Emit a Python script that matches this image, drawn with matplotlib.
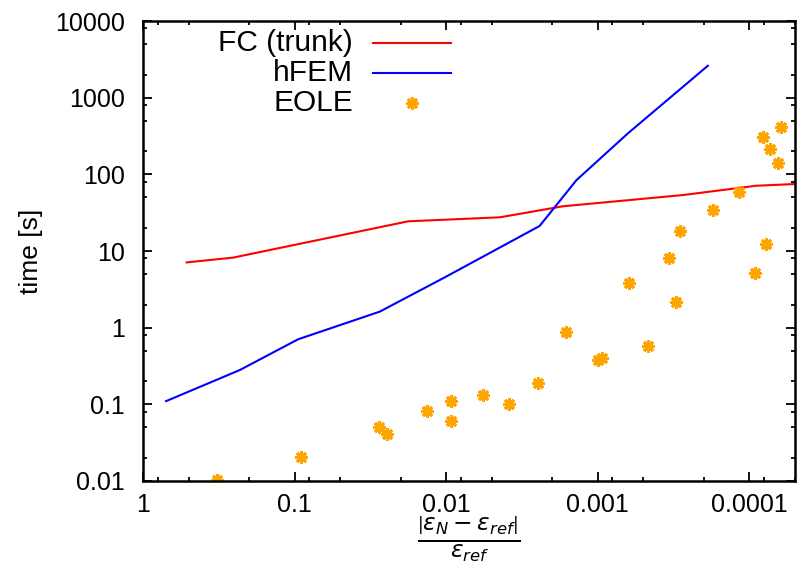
import numpy as np
import matplotlib
matplotlib.use('Agg')
import matplotlib.pyplot as plt
from matplotlib.lines import Line2D
from matplotlib.ticker import FixedLocator, FixedFormatter, LogLocator, NullFormatter

plt.rcParams['font.family'] = ['Liberation Sans', 'DejaVu Sans']
plt.rcParams['mathtext.fontset'] = 'dejavusans'

# FC (trunk) curve
fc_err = [0.515, 0.254, 0.0178, 0.00443, 0.0017, 0.000274, 9.0e-5, 5.0e-5]
fc_time = [7.1, 8.2, 24.4, 27.5, 38.3, 53.7, 71.0, 74.7]

# hFEM curve
hfem_err = [0.705, 0.23, 0.0947, 0.0274, 0.0102, 0.00242, 0.00138, 0.000632, 0.000188]
hfem_time = [0.11, 0.28, 0.706, 1.62, 4.54, 21.2, 84.3, 343.0, 2606.0]

# EOLE samples
eole_err = [0.327, 0.0909, 0.0277, 0.0247, 0.0134, 0.00933, 0.00933, 0.00571, 0.00387,
            0.00248, 0.00161, 0.000997, 0.000933, 0.000625, 0.000467, 0.00034, 0.000303,
            0.000285, 0.000175, 0.000117, 9.2e-5, 7.8e-5, 8.15e-5, 7.36e-5, 6.45e-5, 6.16e-5]
eole_time = [0.0103, 0.0204, 0.0507, 0.0407, 0.082, 0.112, 0.0613, 0.133, 0.102,
             0.192, 0.887, 0.379, 0.406, 3.83, 0.572, 8.18, 2.14,
             18.1, 34.5, 59.3, 5.21, 12.2, 309.0, 214.0, 139.0, 418.0]

xticks = [1, 0.1, 0.01, 0.001, 0.0001]
xtick_labels = ['1', '0.1', '0.01', '0.001', '0.0001']
yticks = [0.01, 0.1, 1, 10, 100, 1000, 10000]
ytick_labels = ['0.01', '0.1', '1', '10', '100', '1000', '10000']

W, H = 798, 568
fig = plt.figure(figsize=(W/100, H/100), dpi=100)
x0, x1, y0, y1 = 143, 795, 21, 481
ax = fig.add_axes([x0/W, 1 - y1/H, (x1 - x0)/W, (y1 - y0)/H])

l_fc, = ax.plot(fc_err, fc_time, color='#ff0000', lw=1.5)
l_hf, = ax.plot(hfem_err, hfem_time, color='#0000ff', lw=1.5)
eole_style = dict(ls='none', marker=(8, 2, 0), ms=9, mew=2.2, color='#ffa500')
ax.plot(eole_err, eole_time, **eole_style)

ax.set_xscale('log')
ax.set_yscale('log')
ax.set_xlim(1, 5e-5)
ax.set_ylim(0.01, 10000)

ax.xaxis.set_major_locator(FixedLocator(xticks))
ax.xaxis.set_major_formatter(FixedFormatter(xtick_labels))
ax.yaxis.set_major_locator(FixedLocator(yticks))
ax.yaxis.set_major_formatter(FixedFormatter(ytick_labels))
ax.xaxis.set_minor_locator(LogLocator(base=10, subs=(2, 5, 8), numticks=20))
ax.yaxis.set_minor_locator(LogLocator(base=10, subs=(2, 5, 8), numticks=20))
ax.xaxis.set_minor_formatter(NullFormatter())
ax.yaxis.set_minor_formatter(NullFormatter())

ax.tick_params(which='both', direction='in', top=True, right=True, width=1.3, color='black')
ax.tick_params(which='major', length=6.5, labelsize=18)
ax.tick_params(which='minor', length=3.2)
ax.tick_params(axis='x', which='major', pad=9)
ax.tick_params(axis='y', which='major', pad=13)
for s in ax.spines.values():
    s.set_linewidth(1.8)

ax.set_ylabel('time [s]', fontsize=19, labelpad=9)
ax.set_xlabel(r'$\frac{\left|\varepsilon_N - \varepsilon_{ref}\right|}{\varepsilon_{ref}}$',
              fontsize=24, labelpad=-2)

# gnuplot-style key: labels right-aligned, samples on the right
def px_to_ax(px, py):
    return (px - x0) / (x1 - x0), (y1 - py) / (y1 - y0)

key_labels = ['FC (trunk)', 'hFEM', 'EOLE']
key_rows = [43.3, 72.7, 102.7]
for lab, row in zip(key_labels, key_rows):
    tx, ty = px_to_ax(353, row)
    ax.text(tx, ty, lab, transform=ax.transAxes, ha='right', va='center',
            fontsize=21.5)
sx0, ty_fc = px_to_ax(373, key_rows[0])
sx1, ty_hf = px_to_ax(451, key_rows[1])
smid, ty_eo = px_to_ax(412, key_rows[2])
ax.add_line(Line2D([sx0, sx1], [ty_fc, ty_fc], transform=ax.transAxes,
                   color=l_fc.get_color(), lw=1.5))
ax.add_line(Line2D([sx0, sx1], [ty_hf, ty_hf], transform=ax.transAxes,
                   color=l_hf.get_color(), lw=1.5))
ax.add_line(Line2D([smid], [ty_eo], transform=ax.transAxes, **eole_style))

fig.savefig('out.png', dpi=100)
